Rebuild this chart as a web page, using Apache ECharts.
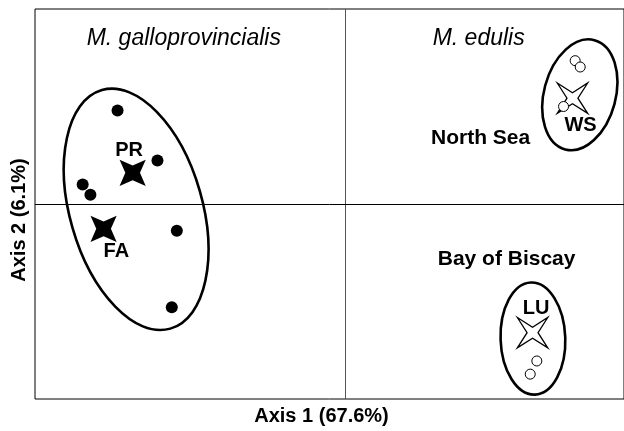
<!DOCTYPE html>
<html>
<head>
<meta charset="utf-8">
<script src="https://cdn.jsdelivr.net/npm/echarts@6/dist/echarts.min.js"></script>
<style>
  html, body { margin: 0; padding: 0; background: #fff; }
  #main { width: 624px; height: 431px; }
</style>
</head>
<body>
<div id="main"></div>
<script>
// PCoA scores (axis 1, axis 2)
var galloDots = [[-0.587, 0.192], [-0.484, 0.089], [-0.677, 0.040], [-0.657, 0.019], [-0.434, -0.055], [-0.447, -0.212]];
var edulisDots = [[0.594, 0.294], [0.607, 0.281], [0.564, 0.200], [0.495, -0.322], [0.478, -0.349]];
var galloCentroids = [[-0.548, 0.064], [-0.623, -0.051]];
var edulisCentroids = [[0.587, 0.217], [0.484, -0.264]];
// ellipses: centre x, centre y, half width (axis 1 units), half height (axis 2 units), tilt in degrees
var ellipses = [[-0.539, -0.011, 0.171, 0.2545, 16], [0.606, 0.224, 0.0925, 0.116, -15], [0.485, -0.276, 0.0835, 0.115, 2]];
// text annotations
var siteLabels = [['PR', -0.557, 0.110], ['FA', -0.590, -0.098], ['WS', 0.608, 0.161], ['LU', 0.493, -0.215]];
var regionLabels = [['North Sea', 0.350, 0.135], ['Bay of Biscay', 0.417, -0.113]];
var speciesLabels = [['M. galloprovincialis', -0.416, 0.340], ['M. edulis', 0.345, 0.340]];

var FONT = 'Liberation Sans, Arial, Helvetica, sans-serif';
var thickStar = 'path://M0,-10 L2.8,-2.8 L10,0 L2.8,2.8 L0,10 L-2.8,2.8 L-10,0 L-2.8,-2.8 Z';
var thinStar = 'path://M0,-10 L1.8,-1.8 L10,0 L1.8,1.8 L0,10 L-1.8,1.8 L-10,0 L-1.8,-1.8 Z';

function labelSeries(list, font) {
    return {
        type: 'scatter',
        symbolSize: 1,
        itemStyle: { color: 'transparent', opacity: 1 },
        silent: true,
        z: 10,
        data: list.map(function (d) { return { name: d[0], value: [d[1], d[2]] }; }),
        label: {
            show: true,
            position: 'inside',
            formatter: '{b}',
            color: '#000',
            fontFamily: FONT,
            fontSize: font.size,
            fontWeight: font.weight,
            fontStyle: font.style
        }
    };
}

var chart = echarts.init(document.getElementById('main'));
chart.setOption({
    animation: false,
    grid: { left: 35, right: -2, top: 9, bottom: 26, show: true, borderColor: '#000', borderWidth: 1 },
    xAxis: {
        type: 'value', min: -0.8, max: 0.72,
        axisLine: { show: false }, axisTick: { show: false }, axisLabel: { show: false }, splitLine: { show: false },
        name: 'Axis 1 (67.6%)', nameLocation: 'middle', nameGap: 7,
        nameTextStyle: { fontFamily: FONT, fontSize: 20, fontWeight: 'bold', color: '#000', padding: [0, 16, 0, 0] }
    },
    yAxis: {
        type: 'value', min: -0.4, max: 0.4,
        axisLine: { show: false }, axisTick: { show: false }, axisLabel: { show: false }, splitLine: { show: false },
        name: 'Axis 2 (6.1%)', nameLocation: 'middle', nameGap: 6,
        nameTextStyle: { fontFamily: FONT, fontSize: 20, fontWeight: 'bold', color: '#000', padding: [0, 32, 0, 0] }
    },
    series: [
        {
            type: 'custom',
            clip: false,
            silent: true,
            encode: { x: 0, y: 1 },
            data: ellipses,
            renderItem: function (params, api) {
                var c = api.coord([api.value(0), api.value(1)]);
                var s = api.size([api.value(2), api.value(3)]);
                return {
                    type: 'ellipse',
                    x: c[0], y: c[1],
                    rotation: api.value(4) * Math.PI / 180,
                    shape: { cx: 0, cy: 0, rx: s[0], ry: s[1] },
                    style: { fill: 'none', stroke: '#000', lineWidth: 2.6 }
                };
            },
            markLine: {
                silent: true,
                symbol: 'none',
                label: { show: false },
                lineStyle: { type: 'solid', width: 1, color: '#333' },
                data: [{ xAxis: 0, lineStyle: { color: '#555' } }, { yAxis: 0, lineStyle: { color: '#000' } }]
            }
        },
        {
            type: 'scatter',
            symbol: 'circle',
            symbolSize: 12,
            itemStyle: { color: '#000', opacity: 1 },
            data: galloDots
        },
        {
            type: 'scatter',
            symbol: thickStar,
            symbolSize: 37,
            symbolRotate: 45,
            itemStyle: { color: '#000', opacity: 1 },
            data: galloCentroids
        },
        {
            type: 'scatter',
            symbol: thinStar,
            symbolSize: 43,
            symbolRotate: 45,
            itemStyle: { color: '#fff', borderColor: '#000', borderWidth: 1.3, opacity: 1 },
            data: edulisCentroids
        },
        {
            type: 'scatter',
            symbol: 'circle',
            symbolSize: 10,
            itemStyle: { color: '#fff', borderColor: '#000', borderWidth: 1, opacity: 1 },
            data: edulisDots
        },
        labelSeries(siteLabels, { size: 20, weight: 'bold', style: 'normal' }),
        labelSeries(regionLabels, { size: 21, weight: 'bold', style: 'normal' }),
        labelSeries(speciesLabels, { size: 23, weight: 'normal', style: 'italic' })
    ]
});
</script>
</body>
</html>
